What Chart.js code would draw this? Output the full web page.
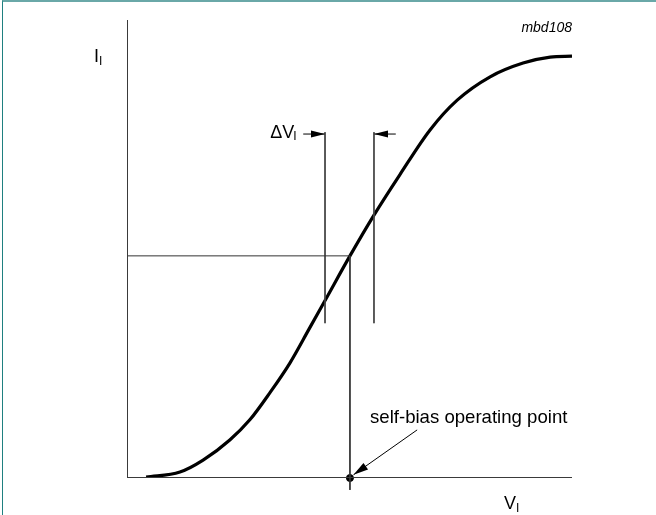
<!DOCTYPE html>
<html>
<head>
<meta charset="utf-8">
<script src="https://cdn.jsdelivr.net/npm/chart.js@4.4.1/dist/chart.umd.min.js"></script>
<style>
    html, body { margin: 0; padding: 0; background: #fff; }
    #wrap { position: relative; width: 656px; height: 515px; }
    #frame {
        position: absolute; left: 2px; top: 0; right: 0; bottom: 0;
        border-top: 2px solid #6aa8a8; border-left: 1px solid #1f8080;
        pointer-events: none;
    }
</style>
</head>
<body>
<div id="wrap">
    <canvas id="chart" width="656" height="515"></canvas>
    <div id="frame"></div>
</div>
<script>
// transfer curve, V_I (x) vs I_I (y), arbitrary units 0..100
const vIn = [4.3, 11.9, 17.1, 23.1, 27.6, 32.1, 36.6, 40.9, 44.7, 50.1, 55.5, 61.3, 68.1, 74.2, 81.6, 89.0, 95.1, 100];
const iIn = [0.2, 1.3, 3.9, 8.3, 12.7, 18.6, 25.1, 32.5, 39.1, 48.5, 57.4, 66.2, 76.0, 82.5, 87.6, 90.6, 91.9, 92.1];

// self-bias operating point
const opV = 50.1;
const opI = 48.5;

// delta V_I window
const deltaLeft = 44.5;
const deltaRight = 55.5;
const deltaTop = 75.5;
const deltaBottom = 33.8;
const deltaArrowY = 75.1;
const deltaArrowLen = 4.9;

// annotation arrow for the operating point
const noteFrom = [65.2, 10.5];
const noteTo = [50.9, 0.7];

const tickBelow = -2.6;

const ctx = document.getElementById('chart');
const FONT = "'Liberation Sans', Arial, sans-serif";

function seg(x1, y1, x2, y2) {
    return [{ x: x1, y: y1 }, { x: x2, y: y2 }];
}

function lineSet(data, width, color, extra) {
    return Object.assign({
        data: data,
        showLine: true,
        borderColor: color,
        borderWidth: width,
        pointRadius: 0,
        fill: false
    }, extra || {});
}

const curvePoints = vIn.map((v, i) => ({ x: v, y: iIn[i] }));

// draws arrowheads and the labels
const extras = {
    id: 'extras',
    afterDatasetsDraw(chart) {
        const c = chart.ctx;
        const xs = chart.scales.x;
        const ys = chart.scales.y;

        chart.data.datasets.forEach((ds) => {
            if (!ds.arrow) return;
            const a = ds.data[0], b = ds.data[ds.data.length - 1];
            const x1 = xs.getPixelForValue(a.x), y1 = ys.getPixelForValue(a.y);
            const x2 = xs.getPixelForValue(b.x), y2 = ys.getPixelForValue(b.y);
            const ang = Math.atan2(y2 - y1, x2 - x1);
            const len = ds.arrow.len, half = ds.arrow.half;
            c.save();
            c.translate(x2, y2);
            c.rotate(ang);
            c.beginPath();
            c.moveTo(0, 0);
            c.lineTo(-len, -half);
            c.lineTo(-len, half);
            c.closePath();
            c.fillStyle = '#000';
            c.fill();
            c.restore();
        });

        c.save();
        c.fillStyle = '#000';
        c.textBaseline = 'alphabetic';

        // figure code
        c.font = 'italic 14px ' + FONT;
        c.textAlign = 'right';
        c.fillText('mbd108', xs.getPixelForValue(100), 31.5);

        c.textAlign = 'left';
        // y axis title
        c.font = '18px ' + FONT;
        c.fillText('I', 94, 62);
        c.font = '12px ' + FONT;
        c.fillText('I', 99, 65);

        // delta V label
        const dvx = xs.getPixelForValue(deltaLeft - deltaArrowLen) - 33;
        const dvy = ys.getPixelForValue(deltaArrowY) + 3.5;
        c.font = '18px ' + FONT;
        c.fillText('\u0394V', dvx, dvy);
        const w = c.measureText('\u0394V').width;
        c.font = '12px ' + FONT;
        c.fillText('I', dvx + w - 1, dvy + 2);

        // operating point note
        c.font = '18.6px ' + FONT;
        c.fillText('self-bias operating point', 370, 423);

        // x axis title
        c.font = '18px ' + FONT;
        c.fillText('V', 504, 509);
        c.font = '12px ' + FONT;
        c.fillText('I', 516, 512);
        c.restore();
    }
};

new Chart(ctx, {
    type: 'scatter',
    data: {
        datasets: [
            lineSet(seg(0, 0, 0, 100), 2, '#3a3a3a'),
            lineSet(seg(0, 0, 100, 0), 2, '#3a3a3a'),
            lineSet(seg(0, opI, opV, opI), 1, '#333'),
            lineSet(seg(opV, opI, opV, tickBelow), 1, '#333', { clip: false }),
            lineSet(seg(deltaLeft, deltaTop, deltaLeft, deltaBottom), 1, '#444'),
            lineSet(seg(deltaRight, deltaTop, deltaRight, deltaBottom), 1, '#444'),
            lineSet(seg(deltaLeft - deltaArrowLen, deltaArrowY, deltaLeft, deltaArrowY), 1, '#000',
                { arrow: { len: 14, half: 3.5 } }),
            lineSet(seg(deltaRight + deltaArrowLen, deltaArrowY, deltaRight, deltaArrowY), 1, '#000',
                { arrow: { len: 14, half: 3.5 } }),
            lineSet(seg(noteFrom[0], noteFrom[1], noteTo[0], noteTo[1]), 1, '#000',
                { arrow: { len: 15, half: 4 } }),
            lineSet(curvePoints, 3.2, '#000', { cubicInterpolationMode: 'monotone' }),
            {
                data: [{ x: opV, y: 0 }],
                pointRadius: 3.5,
                pointBackgroundColor: '#000',
                pointBorderColor: '#000',
                clip: false
            }
        ]
    },
    options: {
        responsive: false,
        animation: false,
        events: [],
        layout: { padding: { left: 127, right: 84, top: 20, bottom: 37 } },
        plugins: { legend: { display: false }, tooltip: { enabled: false } },
        scales: {
            x: { type: 'linear', min: 0, max: 100, display: false },
            y: { type: 'linear', min: 0, max: 100, display: false }
        }
    },
    plugins: [extras]
});
</script>
</body>
</html>
